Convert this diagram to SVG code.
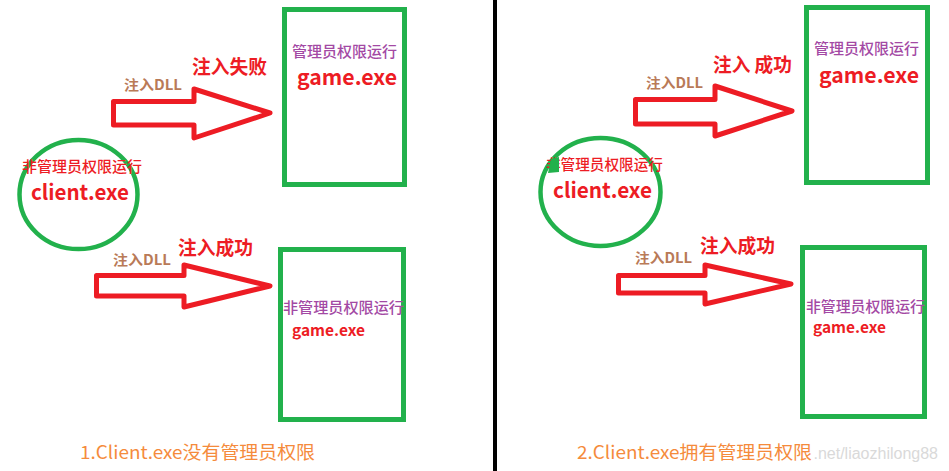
<svg xmlns="http://www.w3.org/2000/svg" width="949" height="471" viewBox="0 0 949 471">
<defs>
<style>
.box{fill:none;stroke:#22b14c;stroke-width:5}
.circ{fill:none;stroke:#22b14c;stroke-width:4.5}
.arrow{fill:none;stroke:#ed1c24;stroke-width:5;stroke-linejoin:round}
text{font-family:"Noto Sans CJK SC","Liberation Sans",sans-serif}
.pur{fill:#a349a4;font-size:15px;font-weight:500}
.redc{fill:#ed1c24;font-size:15px;font-weight:500}
.exe{fill:#ed1c24;font-size:21px;font-weight:700}
.exes{fill:#ed1c24;font-size:15px;font-weight:700}
.dll{fill:#b97a57;font-size:14px;font-weight:700}
.res{fill:#ed1c24;font-size:19px;font-weight:700}
.cap{fill:#f58b3c;font-size:18px}
.wm{fill:#d9d9d9;font-family:"Liberation Sans",sans-serif;font-size:16px}
</style>
</defs>
<rect width="949" height="471" fill="#ffffff"/>
<rect id="divider" x="493" y="0" width="4" height="471" fill="#000000"/>
<text class="wm" x="938" y="459" text-anchor="end">.net/liaozhilong88</text>

<g id="connectors">
<polygon class="arrow" points="113.5,101.5 194,101.5 194,89 270,113 194,138 194,125 113.5,125"/>
<polygon class="arrow" points="96.5,275.5 184,275.5 184,265 270,286 184,307 184,296 96.5,296"/>
<polygon class="arrow" points="635.5,99.5 715,99.5 715,86 792,111 715,136 715,124 635.5,124"/>
<polygon class="arrow" points="618.5,275.5 705,275.5 705,265 791,284 705,304 705,293 618.5,293"/>
<text class="dll" x="124" y="90" textLength="58" lengthAdjust="spacingAndGlyphs">注入DLL</text>
<text class="res" x="192" y="74" textLength="75" lengthAdjust="spacingAndGlyphs">注入失败</text>
<text class="dll" x="113" y="265" textLength="58" lengthAdjust="spacingAndGlyphs">注入DLL</text>
<text class="res" x="178" y="255" textLength="75" lengthAdjust="spacingAndGlyphs">注入成功</text>
<text class="dll" x="646" y="88" textLength="57" lengthAdjust="spacingAndGlyphs">注入DLL</text>
<text class="res" x="713" y="72" textLength="79" lengthAdjust="spacingAndGlyphs">注入 成功</text>
<text class="dll" x="635" y="263" textLength="57" lengthAdjust="spacingAndGlyphs">注入DLL</text>
<text class="res" x="700" y="253" textLength="75" lengthAdjust="spacingAndGlyphs">注入成功</text>
</g>

<g id="client1">
<ellipse class="circ" cx="78.5" cy="194.5" rx="59" ry="54.5"/>
<text class="redc" x="22" y="172" textLength="120" lengthAdjust="spacingAndGlyphs">非管理员权限运行</text>
<text class="exe" x="31" y="200" textLength="98" lengthAdjust="spacingAndGlyphs">client.exe</text>
</g>

<g id="game1-admin">
<rect class="box" x="284.5" y="9.5" width="120" height="175"/>
<text class="pur" x="292" y="57" textLength="105" lengthAdjust="spacingAndGlyphs">管理员权限运行</text>
<text class="exe" x="297" y="85" textLength="100" lengthAdjust="spacingAndGlyphs">game.exe</text>
</g>

<g id="game1-user">
<rect class="box" x="280.5" y="249.5" width="123" height="170"/>
<text class="pur" x="283" y="313" textLength="121" lengthAdjust="spacingAndGlyphs">非管理员权限运行</text>
<text class="exes" x="292" y="336" textLength="73" lengthAdjust="spacingAndGlyphs">game.exe</text>
</g>

<g id="caption1">
<text class="cap" x="80" y="459" textLength="235" lengthAdjust="spacingAndGlyphs">1.Client.exe没有管理员权限</text>
</g>

<g id="client2">
<ellipse class="circ" cx="600.5" cy="192" rx="60" ry="54"/>
<text class="redc" x="546" y="170" textLength="117" lengthAdjust="spacingAndGlyphs">非管理员权限运行</text>
<path d="M551,159 L559,157 L559,172 L548,173 Z" fill="#22b14c"/>
<text class="exe" x="553" y="198" textLength="99" lengthAdjust="spacingAndGlyphs">client.exe</text>
</g>

<g id="game2-admin">
<rect class="box" x="806.5" y="7.5" width="121" height="175"/>
<text class="pur" x="814" y="54" textLength="105" lengthAdjust="spacingAndGlyphs">管理员权限运行</text>
<text class="exe" x="819" y="83" textLength="100" lengthAdjust="spacingAndGlyphs">game.exe</text>
</g>

<g id="game2-user">
<rect class="box" x="802.5" y="247.5" width="122" height="169"/>
<text class="pur" x="806" y="312" textLength="119" lengthAdjust="spacingAndGlyphs">非管理员权限运行</text>
<text class="exes" x="813" y="333" textLength="73" lengthAdjust="spacingAndGlyphs">game.exe</text>
</g>

<g id="caption2">
<text class="cap" x="577" y="459" textLength="235" lengthAdjust="spacingAndGlyphs">2.Client.exe拥有管理员权限</text>
</g>
</svg>
